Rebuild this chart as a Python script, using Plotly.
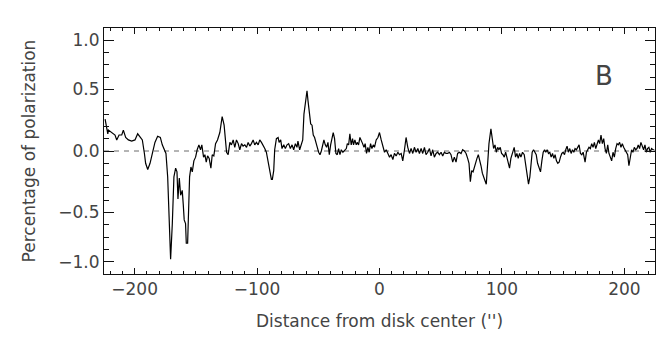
import plotly.graph_objects as go

# Polarization profile along the slit, east limb (negative) to west limb (positive)
distance = [
    -224.1, -221.9, -221.4, -218.7, -216.0, -214.6, -212.7, -210.5, -209.2, -207.3,
    -205.1, -202.4, -199.7, -197.5, -195.6, -193.7, -192.0, -191.0, -189.3, -187.4,
    -185.5, -183.4, -181.2, -179.0, -177.4, -175.7, -174.4, -173.0, -171.9, -170.6,
    -169.2, -167.9, -166.5, -165.4, -164.6, -163.5, -162.4, -161.1, -160.3, -159.5,
    -158.4, -157.8, -156.7, -156.2, -155.1, -154.0, -152.9, -151.6, -150.2, -148.9,
    -147.5, -146.2, -145.1, -143.7, -142.6, -141.5, -140.4, -139.1, -137.7, -136.6,
    -135.3, -133.9, -132.3, -130.4, -128.5, -126.9,
    -124.9, -123.6, -122.2, -120.9, -119.5, -118.2, -116.8, -115.4, -114.1, -112.7,
    -111.4, -110.0, -108.6, -107.3, -105.9, -104.6, -103.2, -101.9, -100.5, -99.1,
    -97.8, -96.4, -95.1, -93.7, -92.4, -91.0, -89.6, -88.3, -87.5, -86.4,
    -85.6, -84.2, -82.8, -82.0, -80.7, -79.6, -78.2, -76.9, -75.5, -74.2,
    -72.8, -71.4, -70.1, -68.7, -67.4, -66.6, -65.2, -63.8, -62.7, -61.7,
    -60.3, -59.2, -58.4, -57.3, -56.2, -55.1, -54.1, -53.0, -51.9, -50.8,
    -49.7, -48.6, -47.5, -46.4, -45.4, -44.3, -43.2, -42.1, -41.0, -39.9,
    -38.8, -37.8, -36.7, -35.6, -34.5, -33.4, -32.3, -31.2, -29.9, -28.5,
    -27.1, -26.3, -25.2, -24.2, -23.1, -22.0, -21.2, -20.1, -19.0, -18.2,
    -17.1, -16.0, -14.9, -13.8, -12.7, -11.7, -10.6, -9.5, -8.4, -7.3,
    -6.2, -5.1, -4.1, -2.7, -1.3, 0.0, 1.4, 2.7, 4.1, 5.5,
    6.8, 8.2, 9.5, 10.9, 12.2, 13.6, 15.0, 16.3, 17.7, 19.0,
    20.4, 21.7, 23.1, 24.5, 25.8, 27.2, 28.5, 29.9, 31.3, 32.6,
    34.0, 35.3, 36.7, 38.0, 39.4, 40.8, 42.1, 43.5, 44.8, 46.2,
    47.5, 48.9, 50.3, 51.6, 53.0, 54.3, 55.7, 57.1, 58.4, 59.8,
    61.1, 62.5, 63.8, 65.2, 66.6, 67.9, 69.3,
    70.7, 72.0, 73.1, 74.2, 75.3, 76.4, 77.4, 78.5, 79.6, 80.7,
    81.8, 82.9, 84.0, 85.1, 86.1, 87.2, 88.3, 89.4, 91.0, 92.1,
    93.2, 94.3, 95.4, 96.5, 97.5, 98.6, 99.7, 100.8, 101.9, 103.0,
    104.1, 105.1, 106.2, 107.3, 108.7, 110.0, 111.1, 112.2, 113.3, 114.4,
    115.5, 116.8, 118.2, 119.5, 120.9, 121.7, 122.8, 123.6, 124.7, 125.8,
    126.9, 128.0, 129.1, 130.4, 131.5, 132.6, 133.7, 134.8, 135.8, 136.9,
    138.0, 139.1, 140.2, 141.3, 142.4, 143.4, 144.5, 145.6, 146.7, 147.8,
    148.9, 150.0, 151.1, 152.1, 153.2, 154.3, 155.4, 156.5, 157.6, 158.7,
    159.7, 160.8, 161.9, 163.0, 164.1, 165.2, 166.3, 167.1,
    167.9, 169.0, 170.1, 171.1, 172.2, 173.3, 174.4, 175.5, 176.6, 177.7,
    178.8, 179.8, 180.9, 182.0, 183.1, 184.2, 185.3, 186.4, 187.4, 188.5,
    189.6, 190.7, 191.8, 192.9, 194.0, 195.0, 196.1, 197.2, 198.3, 199.4,
    200.5, 201.6, 202.7, 203.7, 204.8, 205.9, 207.0, 208.1, 209.2, 210.3,
    211.3, 212.4, 213.5, 214.6, 215.7, 216.8, 217.9, 218.9, 220.0, 221.1,
    222.2, 223.3, 224.4,
]

polarization = [
    0.26, 0.14, 0.17, 0.15, 0.13, 0.09, 0.13, 0.13, 0.17, 0.11,
    0.09, 0.08, 0.09, 0.14, 0.11, 0.09, -0.02, -0.10, -0.15, -0.10,
    -0.02, 0.07, 0.12, 0.11, 0.05, 0.00, -0.02, -0.21, -0.54, -0.88,
    -0.59, -0.21, -0.14, -0.17, -0.39, -0.22, -0.36, -0.32, -0.43, -0.56,
    -0.59, -0.75, -0.75, -0.48, -0.21, -0.13, -0.17, -0.08, -0.05, 0.01,
    0.05, 0.01, 0.05, -0.05, -0.03, -0.09, -0.04, -0.06, -0.14, -0.03,
    -0.04, 0.06, 0.09, 0.15, 0.28, 0.21,
    -0.01, -0.03, 0.07, 0.05, 0.09, 0.03, 0.09, 0.06, 0.01, 0.06,
    0.04, 0.05, 0.03, 0.07, 0.04, 0.06, 0.09, 0.05, 0.07, 0.05,
    0.09, 0.07, 0.05, 0.02, -0.01, -0.09, -0.16, -0.23, -0.23, -0.16,
    0.01, 0.10, 0.11, 0.07, 0.09, 0.02, 0.05, 0.02, 0.05, 0.06,
    0.02, 0.05, 0.01, 0.06, 0.03, 0.08, 0.01, 0.06, 0.09, 0.30,
    0.42, 0.49, 0.41, 0.32, 0.22, 0.21, 0.13, 0.11, 0.06, 0.03,
    -0.01, -0.03, 0.00, 0.06, 0.09, 0.05, 0.03, 0.07, -0.03, 0.05,
    0.11, 0.15, 0.10, -0.02, -0.03, 0.02, -0.03, 0.01, -0.01, 0.01,
    0.02, 0.06, 0.05, 0.14, 0.05, 0.10, 0.05, 0.09, 0.05, 0.07,
    0.05, 0.11, 0.09, 0.06, 0.03, 0.06, -0.02, 0.03, -0.01, 0.06,
    0.02, 0.05, 0.03, 0.09, 0.11, 0.15, 0.09, 0.03, -0.01, 0.01,
    -0.02, -0.05, -0.03, -0.07, -0.02, -0.04, -0.01, -0.03, -0.02, -0.08,
    0.01, 0.11, 0.03, -0.02, 0.02, -0.02, 0.03, -0.01, 0.02, -0.02,
    0.02, -0.02, 0.03, -0.03, -0.01, 0.02, -0.04, 0.01, -0.05, -0.02,
    -0.01, -0.03, -0.01, -0.04, -0.01, -0.02, -0.02, -0.01, -0.03, -0.09,
    -0.05, -0.09, -0.02, -0.01, -0.02, 0.01, 0.00,
    -0.02, -0.06, -0.10, -0.25, -0.16, -0.17, -0.13, -0.10, -0.06, -0.03,
    -0.07, -0.12, -0.18, -0.22, -0.24, -0.27, -0.13, 0.06, 0.18, 0.09,
    0.02, 0.05, -0.01, 0.03, 0.01, 0.03, -0.02, -0.03, -0.05, -0.01,
    -0.05, -0.08, -0.14, -0.06, -0.01, 0.03, -0.05, -0.02, -0.06, -0.02,
    -0.05, -0.01, -0.03, -0.13, -0.21, -0.27, -0.21, -0.10, -0.01, 0.01,
    -0.01, -0.03, -0.10, -0.13, -0.17, -0.08, -0.01, 0.01, -0.01, 0.01,
    -0.02, -0.01, -0.05, -0.02, -0.06, -0.03, -0.08, -0.10, -0.09, -0.05,
    -0.02, -0.01, -0.03, 0.01, 0.04, -0.01, 0.02, -0.02, 0.01, -0.01,
    0.02, 0.01, 0.03, 0.05, -0.02, -0.03, -0.01, -0.07,
    -0.09, -0.01, 0.01, 0.03, 0.02, 0.06, 0.03, 0.07, 0.02, 0.05,
    0.09, 0.06, 0.13, 0.06, 0.10, 0.02, -0.02, 0.05, -0.02, -0.05,
    -0.08, -0.01, -0.05, 0.02, 0.06, 0.05, 0.07, 0.03, 0.06, 0.03,
    0.01, -0.02, -0.03, -0.12, -0.05, 0.01, -0.01, 0.03, 0.01, 0.02,
    0.05, 0.02, 0.07, 0.03, 0.01, 0.05, -0.01, 0.02, 0.03, -0.01,
    0.02, 0.01, 0.01,
]

x_major_ticks = [-200, -100, 0, 100, 200]
x_major_labels = ["\u2212200", "\u2212100", "0", "100", "200"]
y_major_ticks = [-0.9, -0.5, 0.0, 0.5, 0.9]
y_major_labels = ["\u22121.0", "\u22120.5", "0.0", "0.5", "1.0"]

panel_label = "B"

# minor tick positions: every 10" along x, every 0.1 along y
x_minor_ticks = [10 * k for k in range(-22, 23)]
y_minor_ticks = [round(0.1 * k, 1) for k in range(-10, 11)]


def labels_for(positions, majors, texts):
    lookup = {m: t for m, t in zip(majors, texts)}
    return [lookup.get(p, "") for p in positions]


ink = "#111111"
font = dict(family="DejaVu Sans", size=17, color="#444444")

fig = go.Figure()

fig.add_trace(go.Scatter(
    x=distance,
    y=polarization,
    mode="lines",
    line=dict(color="#000000", width=1.2),
    showlegend=False,
    hoverinfo="skip",
))

# empty trace that hosts the overlaid axes carrying the long (major) ticks
fig.add_trace(go.Scatter(
    x=[None], y=[None], xaxis="x2", yaxis="y2",
    mode="lines", showlegend=False, hoverinfo="skip",
))

# dashed zero reference
fig.add_shape(
    type="line", xref="x", yref="y",
    x0=-225, x1=225, y0=0, y1=0,
    line=dict(color="#6a6a6a", width=1, dash="5px,5px"),
    layer="below",
)

fig.add_annotation(
    x=183, y=0.61, xref="x", yref="y",
    text=panel_label, showarrow=False,
    font=dict(family="DejaVu Sans", size=26, color="#444444"),
)

common = dict(
    ticks="inside", tickwidth=1.4, tickcolor=ink,
    showline=True, linecolor=ink, linewidth=1, mirror="allticks",
    showgrid=False, zeroline=False,
)

fig.update_layout(
    width=656, height=339,
    margin=dict(l=104, r=1, t=28, b=65, autoexpand=False),
    paper_bgcolor="white", plot_bgcolor="white",
    showlegend=False,
    xaxis=dict(
        range=[-225, 225],
        tickmode="array", tickvals=x_minor_ticks,
        ticktext=labels_for(x_minor_ticks, x_major_ticks, x_major_labels),
        ticklen=3, tickfont=font, tickangle=0,
        title=dict(text="Distance from disk center ('')", font=font, standoff=16),
        **common,
    ),
    yaxis=dict(
        range=[-1.0, 1.0],
        tickmode="array", tickvals=y_minor_ticks,
        ticktext=labels_for(y_minor_ticks, y_major_ticks, y_major_labels),
        ticklen=5, tickfont=font,
        title=dict(text="Percentage of polarization", font=font, standoff=18),
        **common,
    ),
    xaxis2=dict(
        overlaying="x", matches="x", anchor="y2", side="bottom",
        range=[-225, 225],
        tickmode="array", tickvals=x_major_ticks, ticklen=6,
        showticklabels=False,
        **common,
    ),
    yaxis2=dict(
        overlaying="y", matches="y", anchor="x2", side="left",
        range=[-1.0, 1.0],
        tickmode="array", tickvals=y_major_ticks, ticklen=10,
        showticklabels=False,
        **common,
    ),
)

fig.write_html("out.html")
